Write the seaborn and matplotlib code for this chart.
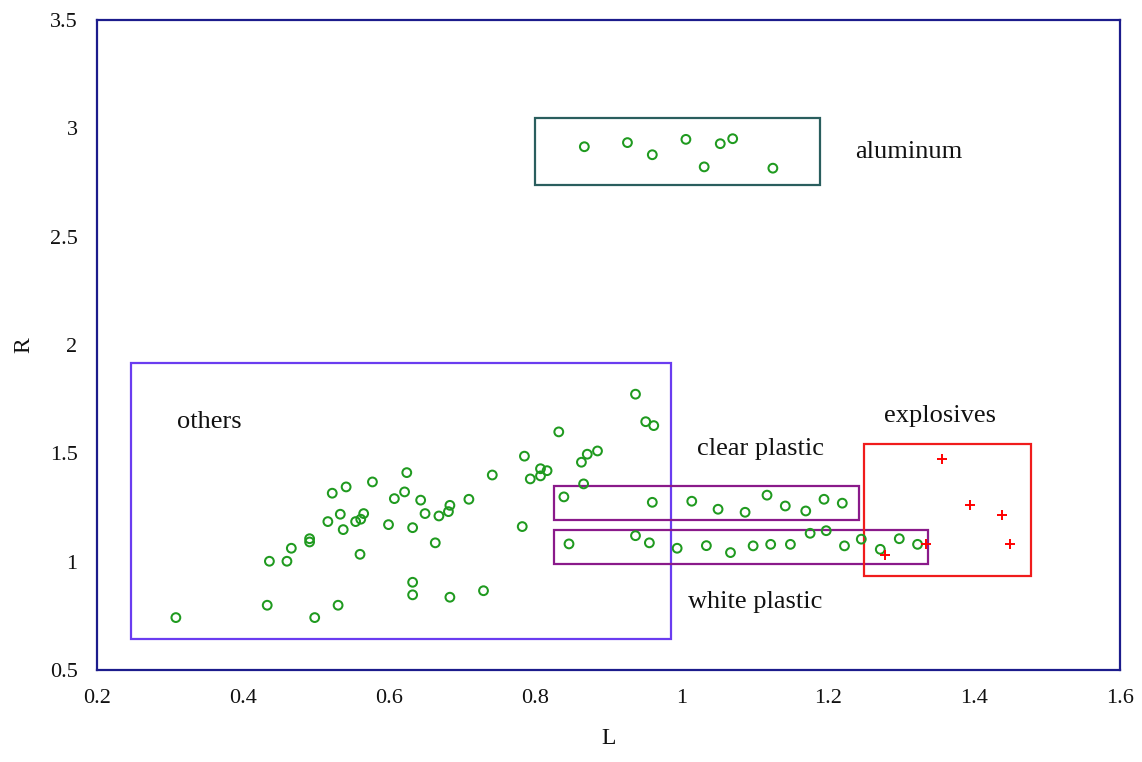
import matplotlib
matplotlib.use("Agg")
import matplotlib.pyplot as plt
from matplotlib.patches import Rectangle
import seaborn as sns
import pandas as pd

# ---- data ----
aluminum_L = [0.867, 0.926, 0.960, 1.006, 1.053, 1.070, 1.031, 1.125]
aluminum_R = [2.915, 2.934, 2.878, 2.949, 2.929, 2.952, 2.822, 2.816]

others_L = [0.308, 0.433, 0.498, 0.530, 0.436, 0.460, 0.466, 0.491, 0.491, 0.560,
            0.516, 0.533, 0.537, 0.522, 0.541, 0.577, 0.554, 0.561, 0.565, 0.599,
            0.624, 0.607, 0.621, 0.643, 0.649, 0.632, 0.632, 0.632, 0.668, 0.681,
            0.683, 0.709, 0.663, 0.683, 0.729, 0.741, 0.782, 0.785, 0.793, 0.807,
            0.807, 0.816, 0.832, 0.863, 0.871, 0.885, 0.866, 0.937, 0.951, 0.962]
others_R = [0.742, 0.799, 0.742, 0.799, 1.002, 1.002, 1.062, 1.106, 1.091, 1.034,
            1.185, 1.219, 1.148, 1.316, 1.345, 1.368, 1.185, 1.196, 1.222, 1.171,
            1.411, 1.291, 1.322, 1.284, 1.222, 1.157, 0.905, 0.847, 1.211, 1.231,
            1.260, 1.288, 1.087, 0.836, 0.866, 1.400, 1.162, 1.487, 1.382, 1.396,
            1.429, 1.420, 1.599, 1.459, 1.496, 1.511, 1.359, 1.773, 1.646, 1.628]

clear_L = [0.839, 0.960, 1.014, 1.050, 1.087, 1.117, 1.142, 1.170, 1.195, 1.220]
clear_R = [1.299, 1.274, 1.279, 1.242, 1.228, 1.307, 1.257, 1.234, 1.288, 1.270]

white_L = [0.846, 0.937, 0.956, 0.994, 1.034, 1.067, 1.098, 1.122, 1.149, 1.176,
           1.198, 1.223, 1.246, 1.272, 1.298, 1.323]
white_R = [1.082, 1.120, 1.087, 1.062, 1.074, 1.042, 1.073, 1.080, 1.080, 1.131,
           1.143, 1.073, 1.104, 1.057, 1.106, 1.080]

explosives_L = [1.356, 1.395, 1.439, 1.449, 1.335, 1.279]
explosives_R = [1.474, 1.262, 1.214, 1.080, 1.080, 1.031]

# group boxes: (name, L_min, L_max, R_min, R_max)
box_names = ["aluminum", "others", "clear plastic", "white plastic", "explosives"]
box_L0 = [0.800, 0.247, 0.826, 0.826, 1.250]
box_L1 = [1.190, 0.985, 1.243, 1.337, 1.478]
box_R0 = [2.740, 0.643, 1.194, 0.988, 0.933]
box_R1 = [3.046, 1.918, 1.351, 1.147, 1.542]
box_colors = ["#2a5e5e", "#6a3cf0", "#8a1a8a", "#8a1a8a", "#f01c1c"]

# text labels (name, L, R)
label_text = ["aluminum", "others", "clear plastic", "explosives", "white plastic"]
label_L = [1.237, 0.309, 1.021, 1.277, 1.009]
label_R = [2.891, 1.645, 1.520, 1.673, 0.814]

x_ticks = [0.2, 0.4, 0.6, 0.8, 1.0, 1.2, 1.4, 1.6]
x_ticklabels = ["0.2", "0.4", "0.6", "0.8", "1", "1.2", "1.4", "1.6"]
y_ticks = [0.5, 1.0, 1.5, 2.0, 2.5, 3.0, 3.5]
y_ticklabels = ["0.5", "1", "1.5", "2", "2.5", "3", "3.5"]

# ---- build tables ----
circles = pd.DataFrame({
    "L": aluminum_L + others_L + clear_L + white_L,
    "R": aluminum_R + others_R + clear_R + white_R,
})
plus = pd.DataFrame({"L": explosives_L, "R": explosives_R})

sns.set_theme(style="white")
plt.rcParams["font.family"] = ["Liberation Serif", "DejaVu Serif"]

fig = plt.figure(figsize=(11.42, 7.62), dpi=100)
ax = fig.add_axes([0.0849, 0.1207, 0.8958, 0.8531])

green = "#1f9a1f"
sns.scatterplot(data=circles, x="L", y="R", ax=ax, marker="o", s=40,
                facecolors="none", edgecolor=green, linewidth=1.45, zorder=3)
sns.scatterplot(data=plus, x="L", y="R", ax=ax, marker="+", s=60,
                color="#ff0000", linewidth=1.4, zorder=4)

for x0, x1, y0, y1, c in zip(box_L0, box_L1, box_R0, box_R1, box_colors):
    ax.add_patch(Rectangle((x0, y0), x1 - x0, y1 - y0, fill=False,
                           edgecolor=c, linewidth=1.6, zorder=2))

for t, lx, ly in zip(label_text, label_L, label_R):
    ax.text(lx, ly, t, fontsize=19, color="#111111", ha="left", va="center")

ax.set_xlim(0.2, 1.6)
ax.set_ylim(0.5, 3.5)
ax.set_xticks(x_ticks)
ax.set_xticklabels(x_ticklabels)
ax.set_yticks(y_ticks)
ax.set_yticklabels(y_ticklabels)
ax.tick_params(axis="both", length=0, labelsize=16, colors="#111111")
ax.tick_params(axis="x", pad=14)
ax.tick_params(axis="y", pad=14)
ax.set_xlabel("L", fontsize=17, color="#111111", labelpad=14)
ax.set_ylabel("R", fontsize=17, color="#111111", labelpad=11)
for sp in ax.spines.values():
    sp.set_color("#1c1c8c")
    sp.set_linewidth(1.6)
    sp.set_visible(True)
ax.grid(False)

fig.savefig("out.png", dpi=100, facecolor="white")
